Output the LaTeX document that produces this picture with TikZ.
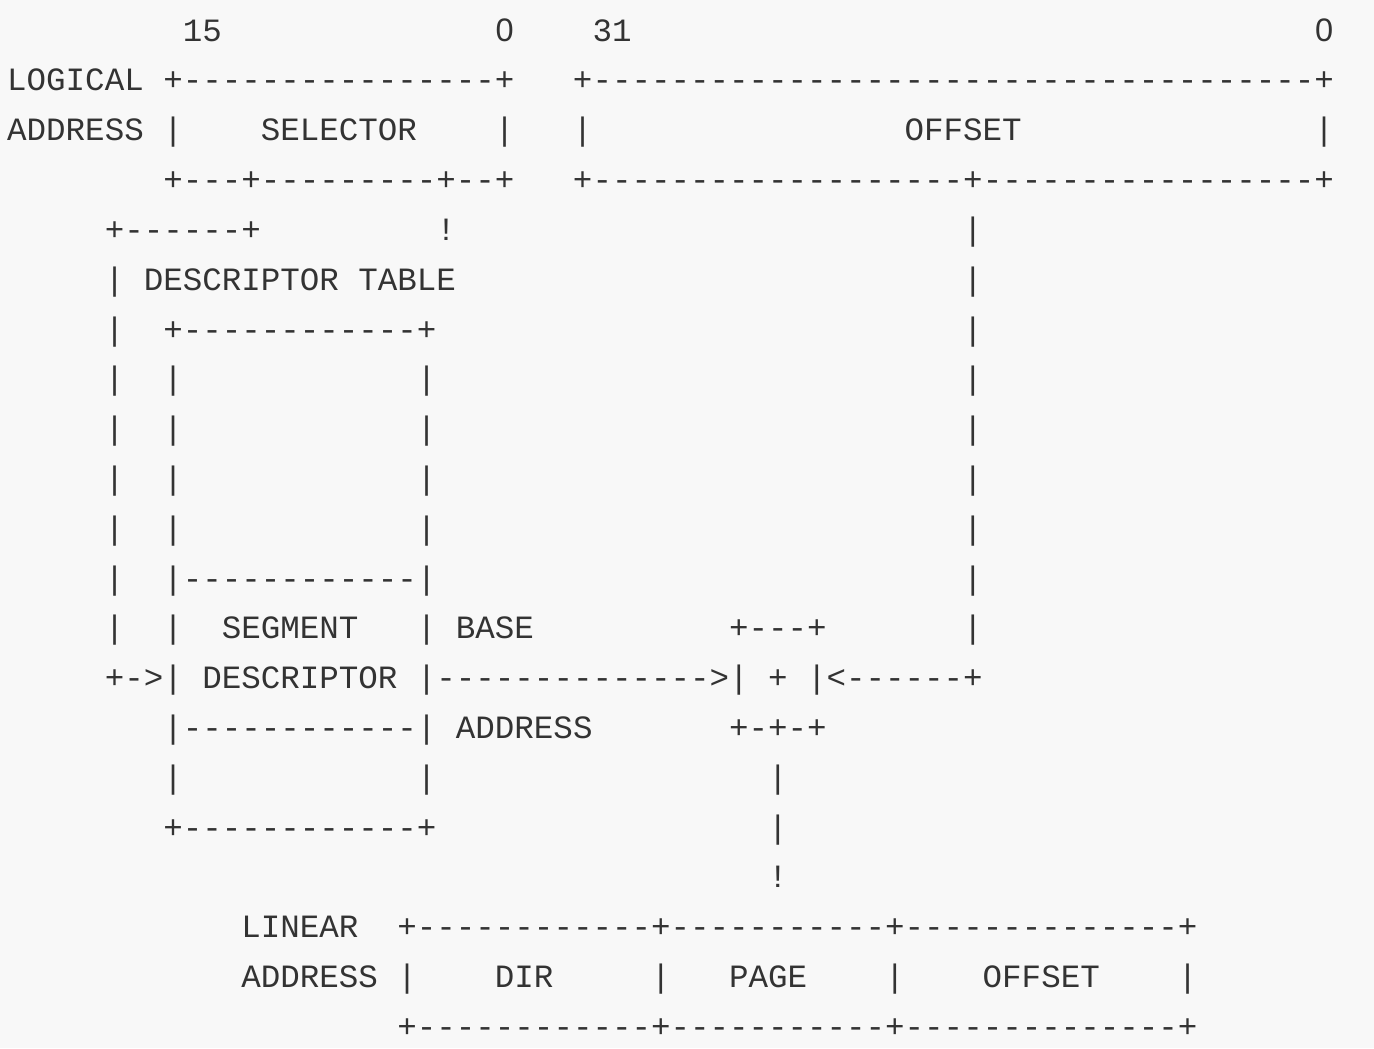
\documentclass[tikz,border=0pt]{standalone}
\usepackage{fontspec}
\setmonofont{Liberation Mono}
\newfontfamily\plainzero{Liberation Sans}
\definecolor{ink}{HTML}{333333}
\definecolor{paper}{HTML}{F8F8F8}
\ExplSyntaxOn
\newcommand\rpt[2]{\prg_replicate:nn{#1}{#2}}
\ExplSyntaxOff
\newcommand\zro{\makebox[9.755pt]{\plainzero 0}}
\tikzset{txt/.style={font=\ttfamily\fontsize{16.26pt}{20pt}\selectfont, text=ink, anchor=base west, inner sep=0pt, outer sep=0pt}}
\newcommand\cel[3]{\node[txt] (c#1r#2) at ({3.6pt+#1*9.755pt},{-20.6pt-(#2-1)*24.9pt}) {#3};}
\begin{document}
\begin{tikzpicture}
\fill[paper] (0,0) rectangle (687pt,-524pt);
\useasboundingbox (0,0) rectangle (687pt,-524pt);
% row 1
\cel{9}{1}{15}\cel{25}{1}{\zro}\cel{30}{1}{31}\cel{67}{1}{\zro}
% row 2
\cel{0}{2}{LOGICAL}\cel{8}{2}{+\rpt{16}{-}+}\cel{29}{2}{+\rpt{37}{-}+}
% row 3
\cel{0}{3}{ADDRESS}\cel{8}{3}{|}\cel{13}{3}{SELECTOR}\cel{25}{3}{|}\cel{29}{3}{|}\cel{46}{3}{OFFSET}\cel{67}{3}{|}
% row 4
\cel{8}{4}{+\rpt{3}{-}+\rpt{9}{-}+\rpt{2}{-}+}\cel{29}{4}{+\rpt{19}{-}+\rpt{17}{-}+}
% row 5
\cel{5}{5}{+\rpt{6}{-}+}\cel{22}{5}{!}\cel{49}{5}{|}
% row 6
\cel{5}{6}{|}\cel{7}{6}{DESCRIPTOR}\cel{18}{6}{TABLE}\cel{49}{6}{|}
% row 7
\cel{5}{7}{|}\cel{8}{7}{+\rpt{12}{-}+}\cel{49}{7}{|}
% rows 8-11
\foreach \r in {8,...,11}{\cel{5}{\r}{|}\cel{8}{\r}{|}\cel{21}{\r}{|}\cel{49}{\r}{|}}
% row 12
\cel{5}{12}{|}\cel{8}{12}{|\rpt{12}{-}|}\cel{49}{12}{|}
% row 13
\cel{5}{13}{|}\cel{8}{13}{|}\cel{11}{13}{SEGMENT}\cel{21}{13}{|}\cel{23}{13}{BASE}\cel{37}{13}{+\rpt{3}{-}+}\cel{49}{13}{|}
% row 14
\cel{5}{14}{+->|}\cel{10}{14}{DESCRIPTOR}\cel{21}{14}{|\rpt{14}{-}>|}\cel{39}{14}{+}\cel{41}{14}{|<\rpt{6}{-}+}
% row 15
\cel{8}{15}{|\rpt{12}{-}|}\cel{23}{15}{ADDRESS}\cel{37}{15}{+-+-+}
% row 16
\cel{8}{16}{|}\cel{21}{16}{|}\cel{39}{16}{|}
% row 17
\cel{8}{17}{+\rpt{12}{-}+}\cel{39}{17}{|}
% row 18
\cel{39}{18}{!}
% row 19
\cel{12}{19}{LINEAR}\cel{20}{19}{+\rpt{12}{-}+\rpt{11}{-}+\rpt{14}{-}+}
% row 20
\cel{12}{20}{ADDRESS}\cel{20}{20}{|}\cel{25}{20}{DIR}\cel{33}{20}{|}\cel{37}{20}{PAGE}\cel{45}{20}{|}\cel{50}{20}{OFFSET}\cel{60}{20}{|}
% row 21
\cel{20}{21}{+\rpt{12}{-}+\rpt{11}{-}+\rpt{14}{-}+}
\end{tikzpicture}
\end{document}
